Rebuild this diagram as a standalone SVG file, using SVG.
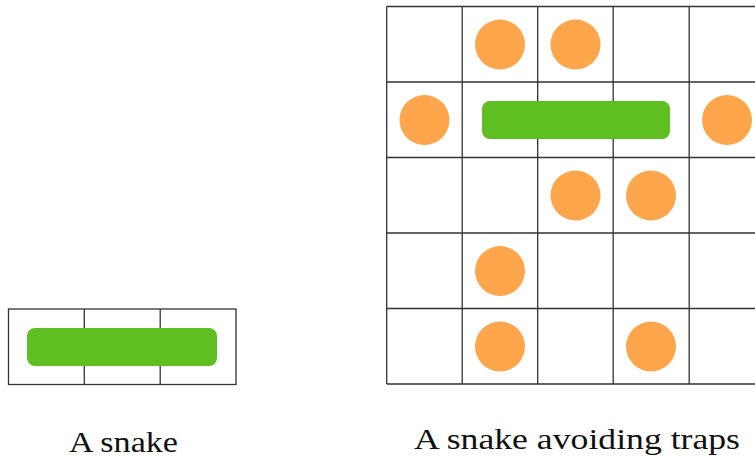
<svg xmlns="http://www.w3.org/2000/svg" width="755" height="457" viewBox="0 0 755 457">
<style>
.grid{fill:none;stroke:#333;stroke-width:1.3}
.snake{fill:#5FBF22}
.trap{fill:#FFA64D}
.cap{font-family:"Liberation Serif","DejaVu Serif",serif;font-size:29px;fill:#111;text-anchor:middle}
</style>
<rect width="755" height="457" fill="#fff"/>
<g id="small-board">
<rect class="grid" x="8.5" y="309" width="227.5" height="75.5"/>
<line class="grid" x1="84.3" y1="309" x2="84.3" y2="384.5"/>
<line class="grid" x1="160.2" y1="309" x2="160.2" y2="384.5"/>
<rect id="snake1" class="snake" x="27" y="328" width="190" height="38" rx="8"/>
</g>
<g id="big-board">
<path class="grid" d="M386.7 6.5H765M386.7 82H765M386.7 157.5H765M386.7 233H765M386.7 308.5H765M386.7 384H765M386.7 6.5V384M462.2 6.5V384M537.7 6.5V384M613.2 6.5V384M689.2 6.5V384"/>
<rect id="snake2" class="snake" x="482" y="101" width="188" height="38" rx="8"/>
<g id="traps">
<circle class="trap" cx="500" cy="44.5" r="25"/>
<circle class="trap" cx="575.5" cy="44.5" r="25"/>
<circle class="trap" cx="424.5" cy="120" r="25"/>
<circle class="trap" cx="727" cy="120" r="25"/>
<circle class="trap" cx="575.5" cy="195.5" r="25"/>
<circle class="trap" cx="651" cy="195.5" r="25"/>
<circle class="trap" cx="500" cy="271" r="25"/>
<circle class="trap" cx="500" cy="346.5" r="25"/>
<circle class="trap" cx="651" cy="346.5" r="25"/>
</g>
</g>
<g id="captions">
<text class="cap" x="123.5" y="452" textLength="109" lengthAdjust="spacingAndGlyphs">A snake</text>
<text class="cap" x="577" y="449" textLength="326" lengthAdjust="spacingAndGlyphs">A snake avoiding traps</text>
</g>
</svg>
